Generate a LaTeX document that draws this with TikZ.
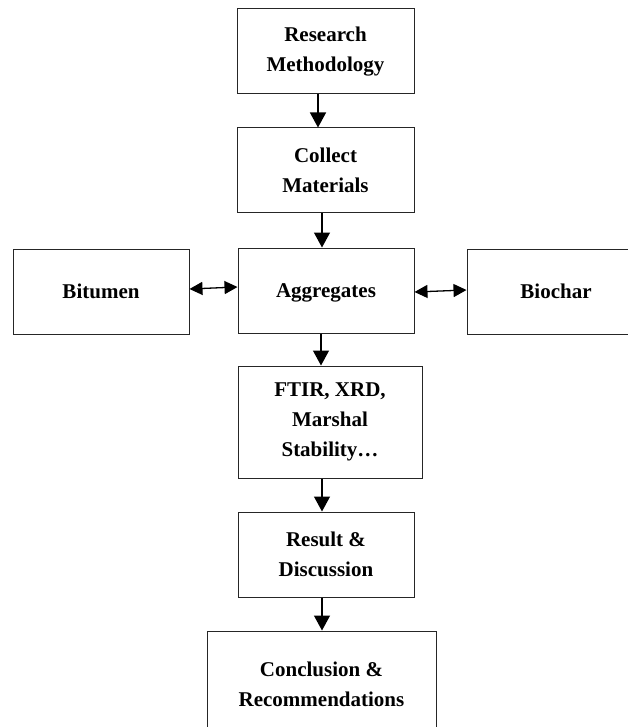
\documentclass[tikz,border=0pt]{standalone}
\usepackage{fontspec}
\setmainfont{Liberation Serif}
\usetikzlibrary{arrows.meta}
\begin{document}
\begin{tikzpicture}[x=1pt,y=-1pt,
  box/.style={draw=black!85,line width=1pt,fill=white,inner sep=0pt,align=center,
    font=\bfseries\fontsize{21}{30}\selectfont},
  flow/.style={line width=1.3pt,-{Triangle[length=15pt,width=16pt]}},
  both/.style={line width=1.3pt,{Triangle[length=13pt,width=13pt]}-{Triangle[length=13pt,width=13pt]}}]
\useasboundingbox (0,0) rectangle (628,727);
\clip (0,0) rectangle (628,727);
\fill[white] (0,0) rectangle (628,727);
\node[box,minimum width=177pt,minimum height=85pt] (rm) at (325.5,51.5) {Research\\Methodology};
\node[box,minimum width=177pt,minimum height=85pt] (cm) at (325.5,170.5) {Collect\\Materials};
\node[box,minimum width=176pt,minimum height=85pt,text depth=0pt] (ag) at (326,290.5) {Aggregates};
\node[box,minimum width=176pt,minimum height=85pt] (bit) at (101,291.5) {Bitumen};
\node[box,minimum width=178pt,minimum height=85pt] (bio) at (556,291.5) {Biochar};
\node[box,minimum width=184pt,minimum height=112pt] (ft) at (330,422) {FTIR, XRD,\\Marshal\\Stability…};
\node[box,minimum width=176pt,minimum height=85pt] (rd) at (326,554.5) {Result \&\\Discussion};
\node[box,minimum width=229pt,minimum height=107pt] (cr) at (321.5,684.5) {Conclusion \&\\Recommendations};
\draw[flow] ([xshift=-7.5pt]rm.south) -- ([xshift=-7.5pt]cm.north);
\draw[flow] ([xshift=-3.5pt]cm.south) -- ([xshift=-4pt]ag.north);
\draw[flow] ([xshift=-5pt]ag.south) -- ([xshift=-9pt]ft.north);
\draw[flow] ([xshift=-8pt]ft.south) -- ([xshift=-4pt]rd.north);
\draw[flow] ([xshift=-4pt]rd.south) -- ([xshift=0.5pt]cr.north);
\draw[both] ([yshift=2.5pt]bit.east) -- ([yshift=3.5pt]ag.west);
\draw[both] ([yshift=-1.5pt]ag.east) -- ([yshift=1.5pt]bio.west);
\end{tikzpicture}
\end{document}
